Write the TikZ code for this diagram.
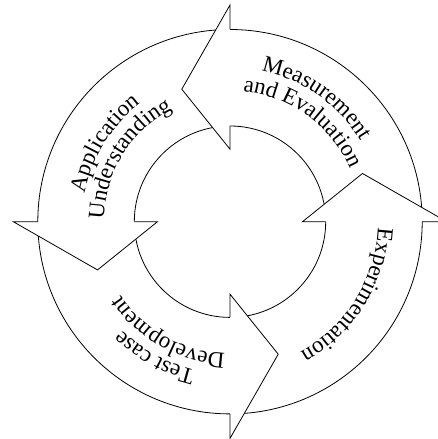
\documentclass[tikz,border=0pt]{standalone}
\usepackage{fontspec}
\setmainfont{Liberation Serif}
\usetikzlibrary{decorations.text}
\newcommand\lblfont{\fontsize{23}{27}\selectfont}
\begin{document}
\begin{tikzpicture}[x=1pt,y=1pt,line width=0.8pt,
  headshape/.style={draw=black,fill=white,line join=miter},
  arctext/.style={decorate,decoration={text along path,text align=center,text={#1}}}]
\useasboundingbox (0,0) rectangle (438,439);
\clip (0,0) rectangle (438,439);
\coordinate (C) at (230,217.3);
\begin{scope}[shift={(C)}]
  \draw (0,0) circle[radius=192.2pt];
  \draw (0,0) circle[radius=95.7pt];
  \foreach \a in {0,90,180,270} {
    \path[headshape] (\a:192.2pt) -- (\a:216.7pt) -- (\a+20:141pt) -- (\a:72.5pt) -- (\a:95.7pt);
  }
  % Measurement and Evaluation
  \path[arctext={|\lblfont|Measurement}] (115:154pt) arc[start angle=115,end angle=-5,radius=154pt];
  \path[arctext={|\lblfont|and Evaluation}] (114:131pt) arc[start angle=114,end angle=-6,radius=131pt];
  % Application Understanding
  \path[arctext={|\lblfont|Application}] (208:148pt) arc[start angle=208,end angle=88,radius=148pt];
  \path[arctext={|\lblfont|Understanding}] (208:126pt) arc[start angle=208,end angle=88,radius=126pt];
  % Test case Development
  \path[arctext={|\lblfont|Test case}] (301:153pt) arc[start angle=301,end angle=181,radius=153pt];
  \path[arctext={|\lblfont|Development}] (301:132pt) arc[start angle=301,end angle=181,radius=132pt];
  % Experimentation
  \path[arctext={|\lblfont|Experimentation}] (388:148pt) arc[start angle=388,end angle=268,radius=148pt];
\end{scope}
\end{tikzpicture}
\end{document}
